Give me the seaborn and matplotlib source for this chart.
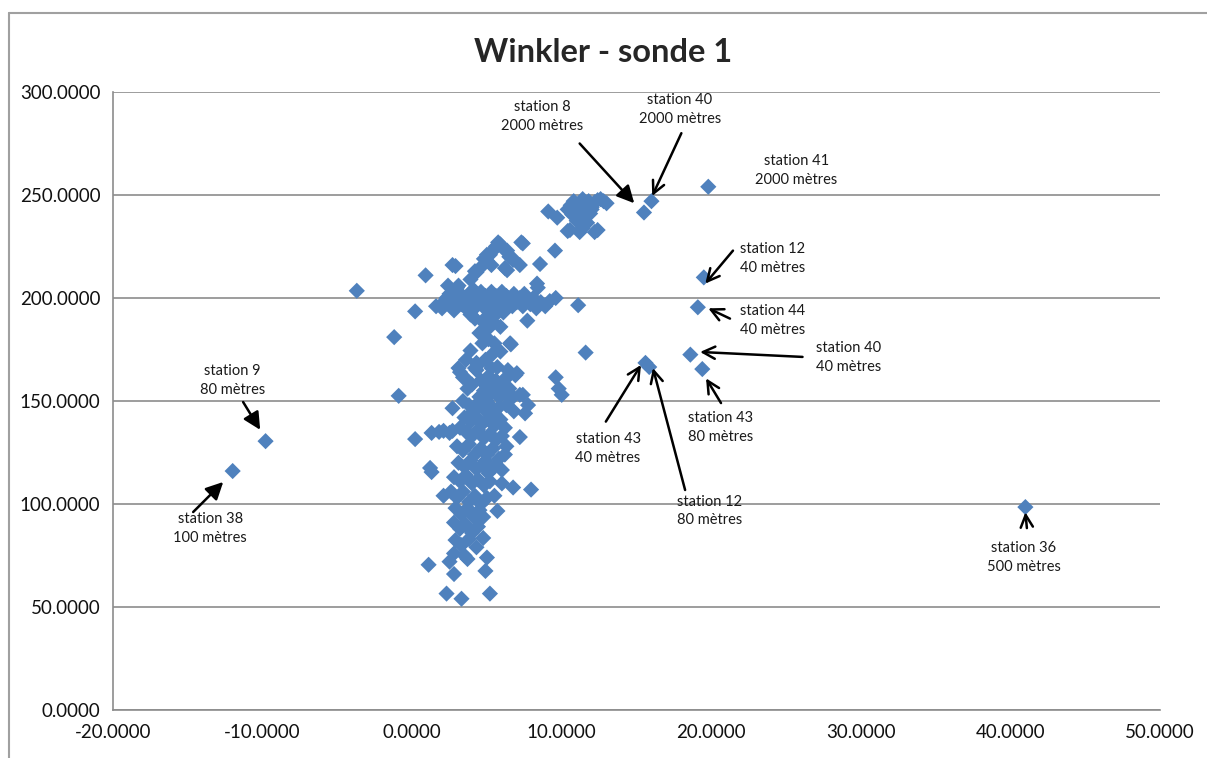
import pandas as pd
import seaborn as sns
import matplotlib.pyplot as plt
from matplotlib.lines import Line2D

# Upper branch of the cloud (y above ~205)
upper_x = [0.9, 2.7, 2.9, 3.1, 3.9, 4.2, 4.3, 4.6, 5.0, 5.0, 5.2, 5.4, 5.6, 5.75, 5.9, 6.1,
           6.2, 6.35, 6.35, 6.5, 6.75, 6.75, 7.2, 7.4, 7.3, 8.35, 8.55, 9.55, 9.1, 9.7, 10.4,
           10.55, 11.2, 11.4, 12.2, 12.4, 11.7, 11.2, 11.9, 10.4, 10.6, 10.8, 11.0, 11.2, 11.4,
           11.6, 11.8, 12.0, 12.2, 12.4, 12.6, 12.8, 13.0, 10.9, 11.3, 11.5, 10.7, 11.0, 11.5,
           12.0, 5.3, 4.8]
upper_y = [211, 216, 215.5, 206, 209, 213, 212.5, 215, 218, 221, 221, 223, 225, 227, 226, 224,
           214.5, 223, 213.5, 220, 219, 218.5, 216, 226.5, 227, 207, 216.5, 223, 242, 239, 232.5,
           233, 232, 234, 232, 233, 236.5, 239.5, 241, 243, 245, 247, 244, 246, 248,
           245, 247, 244, 246.5, 247.5, 248, 247, 246, 241, 242, 240, 240.5, 237.5, 237,
           243, 216, 219]

# Horizontal band around 200
band_x = [0.2, 1.6, 2.0, 2.1, 2.3, 2.5, 2.6, 2.8, 3.0, 3.1, 3.3, 3.5, 3.6, 3.8, 4.0, 4.1,
          4.3, 4.4, 4.6, 4.7, 4.9, 5.0, 5.1, 5.3, 5.4, 5.6, 5.7, 5.9, 6.0, 6.2, 6.3, 6.5,
          6.7, 6.8, 7.0, 7.2, 7.4, 7.5, 7.7, 7.9, 8.1, 8.3, 8.4, 8.6, 8.9, 9.2, 9.6, 11.1,
          7.7, 5.2, 4.5, 4.75, 5.9, 6.55, 3.0, 2.4, 5.0, 5.3, 4.8, 5.6, 4.2, 6.1, 3.9, -3.7, -1.2]
band_y = [193.5, 196, 195, 198, 200, 202, 196, 194, 199, 203, 197, 200, 195, 202, 198, 204,
          196, 200, 203, 197, 201, 194, 199, 203, 197, 201, 195, 199, 203, 197, 201, 199,
          196, 202, 198, 200, 196, 202, 199, 197, 200, 195, 205, 198, 196, 198.5, 200, 196.5,
          189, 186, 183, 184, 186, 178, 205, 206, 191, 189, 188, 192, 190, 193, 192, 203.5, 181]

# Vertical column below the band
column_x = [3.9, 4.3, 4.3, 3.1, 3.4, 3.2, 3.5, 4.4, 4.2, 5.4, 5.9, 5.7, 6.35, 6.9, 7.0, 6.6,
            4.5, 4.8, 5.0, 5.2, 5.5, 5.8, 6.0, 6.2, 6.5, 6.75, 4.6, 5.1, 5.6, 6.1, 6.4, 5.3,
            4.9, 5.5, 5.1, 4.7, 7.2, 7.4, 7.75, 7.55, 2.7, 3.4, 3.8, 4.1, 4.4, 4.8, 5.2, 5.5,
            5.8, 3.5, 3.9, 4.3, 4.7, 5.1, 5.5, 5.9, 6.2, 3.2, 3.6, 4.0, 4.4, 4.8, 5.2, 5.6,
            6.0, 6.3, 1.3, 1.8, 2.1, 2.5, 2.7, 0.2, 7.2, 3.0, 3.4, 3.8, 4.2, 4.6, 5.0, 5.4,
            5.8, 6.2, 6.0, 3.1, 3.5, 3.9, 4.3, 4.7, 5.1, 5.5, 1.2, 1.3, 2.8, 3.2, 3.6, 4.0,
            4.4, 4.8, 5.2, 6.75, 7.95, 2.1, 2.6, 3.0, 3.4, 3.8, 4.2, 4.6, 5.0, 5.5, 2.9, 3.3,
            3.7, 4.1, 4.5, 5.7, 4.75, 2.8, 3.2, 3.6, 4.0, 4.4, 2.9, 4.3, 4.75, 3.3, 3.8, 2.8,
            3.5, 3.7, 1.1, 2.5, 2.8, 5.0, 4.9, 2.3, 3.3, 5.2, 9.6, 9.8, 10.0, 11.6, -0.9,
            6.3, 6.0, 4.9, 3.7, 4.0, 3.6, 6.8, 5.0]
column_y = [174.5, 168.5, 165, 166, 161.5, 164, 161.5, 167.5, 166, 173, 174, 166.5, 161.5, 162.5, 163.5, 177.5,
            152, 155, 157, 153, 156, 152, 157, 154, 156, 152, 160, 162, 160, 160, 165, 166,
            170, 178, 180, 178, 153, 153, 148, 144, 146.5, 150, 148, 145, 149, 146, 148, 144,
            147, 142, 140, 142, 139, 141, 138, 141, 137, 137, 135, 133, 136, 132, 134, 131,
            133, 128, 134.5, 135, 135.5, 134.5, 135.5, 131.5, 132.5, 128, 126, 129, 124, 127, 124, 127,
            122, 124, 116.5, 120, 118, 121, 117, 119, 115, 118, 117.5, 115.5, 113, 111, 114, 110,
            112, 109, 111, 108, 107, 104, 106, 103, 106, 101, 104, 100, 103, 104, 98, 95,
            98, 94, 97, 96.6, 93.7, 91, 88, 90, 86, 89, 82.5, 79, 83.5, 80, 83, 76,
            75, 73.3, 70.5, 72, 66, 74, 67.5, 56.5, 54, 56.5, 161.5, 156, 153, 173.5, 152.5,
            148, 110, 121, 156, 158, 170, 145, 150]

# Labelled stations
station_labels = ["station 9\n80 mètres", "station 38\n100 mètres", "station 8\n2000 mètres",
                  "station 40\n2000 mètres", "station 41\n2000 mètres", "station 12\n40 mètres",
                  "station 44\n40 mètres", "station 40\n40 mètres", "station 43\n80 mètres",
                  "station 43\n40 mètres", "station 12\n80 mètres", "station 36\n500 mètres"]
station_x = [-9.8, -12.0, 15.5, 16.0, 19.8, 19.5, 19.1, 18.6, 19.4, 15.6, 15.85, 41.0]
station_y = [130.5, 116, 241.5, 247, 254, 210, 195.5, 172.5, 165.5, 168.5, 166.5, 98.5]

# label centre and arrow tail/head for each station (None = no arrow)
label_pos = [(-12.0, 160), (-13.5, 88.3), (8.7, 288), (17.9, 291.7), (25.7, 262), (24.1, 219),
             (24.1, 189), (29.2, 171), (20.65, 137), (13.1, 127), (19.9, 96.6), (40.9, 73.8)]
arrow_tail = [(-11.3, 149.5), (-14.64, 96.1), (11.2, 275), (18.0, 280), None, (21.45, 223),
              (21.25, 190), (26.1, 171.4), (20.65, 149), (12.95, 140), (18.25, 106.8), (41.1, 88.3)]
arrow_head = [(-10.16, 136), (-12.63, 110.7), (14.85, 246), (16.05, 249.5), None, (19.6, 207),
              (19.8, 195), (19.25, 173.8), (19.65, 161), (15.3, 167.5), (16.1, 166), (41.0, 96)]
filled_head = [True, True, True, False, False, False, False, False, False, False, False, False]

df = pd.DataFrame({
    "x": upper_x + band_x + column_x + station_x,
    "y": upper_y + band_y + column_y + station_y,
})

sns.set_style("white")
plt.rcParams['font.family'] = ['Lato', 'DejaVu Sans']

fig = plt.figure(figsize=(12.07, 7.58), dpi=100)
ax = fig.add_axes([113 / 1207, 48 / 758, 1047 / 1207, 618 / 758])

sns.scatterplot(data=df, x="x", y="y", marker="D", s=68, color="#4F81BD",
                edgecolor="none", linewidth=0, ax=ax, zorder=3)

ax.set_xlim(-20, 50)
ax.set_ylim(0, 300)
ax.set_xticks(range(-20, 51, 10))
ax.set_yticks(range(0, 301, 50))
ax.set_xticklabels([f"{v:.4f}" for v in range(-20, 51, 10)])
ax.set_yticklabels([f"{v:.4f}" for v in range(0, 301, 50)])
ax.set_xlabel("")
ax.set_ylabel("")
ax.yaxis.grid(True, color="#8c8c8c", linewidth=1.2)
ax.set_axisbelow(True)
for side in ["top", "right"]:
    ax.spines[side].set_visible(False)
for side in ["left", "bottom"]:
    ax.spines[side].set_color("#8c8c8c")
    ax.spines[side].set_linewidth(1.2)
ax.tick_params(axis="both", direction="out", length=5, width=1.2, color="#8c8c8c",
               labelsize=13.5, labelcolor="#111111", pad=4)
ax.tick_params(axis="x", pad=5)

fig.text(0.5, 1 - 52 / 758, "Winkler - sonde 1", ha="center", va="center",
         fontsize=23.5, fontweight="bold")

for lab, (tx, ty), tail, head, filled in zip(station_labels, label_pos, arrow_tail,
                                              arrow_head, filled_head):
    ax.text(tx, ty, lab, ha="center", va="center", fontsize=10.5, color="#1a1a1a",
            linespacing=1.45, zorder=5)
    if tail is not None:
        ax.annotate("", xy=head, xytext=tail,
                    arrowprops=dict(arrowstyle="-|>" if filled else "->",
                                    color="black", lw=1.8,
                                    mutation_scale=26 if filled else 22,
                                    shrinkA=0, shrinkB=0), zorder=6)

# outer chart border (left and top visible in the reference)
fig.add_artist(Line2D([9 / 1207, 9 / 1207], [0, 1 - 13 / 758], color="#a0a0a0", lw=1.5,
                      transform=fig.transFigure))
fig.add_artist(Line2D([9 / 1207, 1], [1 - 13 / 758, 1 - 13 / 758], color="#a0a0a0", lw=1.5,
                      transform=fig.transFigure))

fig.savefig("out.png", dpi=100)
